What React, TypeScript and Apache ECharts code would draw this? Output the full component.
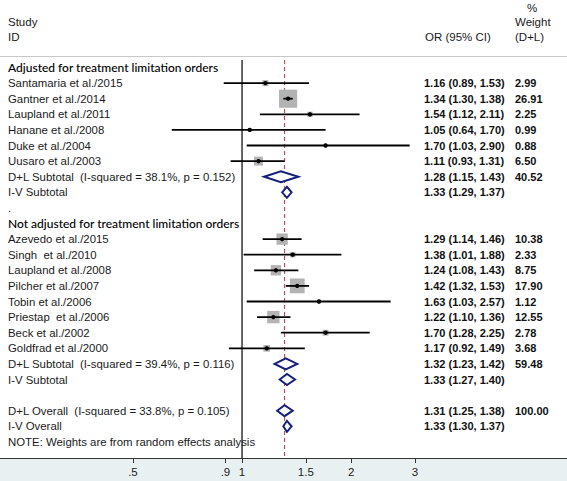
import React, { useEffect, useRef } from "react";
import * as echarts from "echarts";

// ---------- data ----------
const groupTitles = ["Adjusted for treatment limitation orders", "Not adjusted for treatment limitation orders"];

const adjustedStudies = ["Santamaria et al./2015", "Gantner et al./2014", "Laupland et al./2011", "Hanane et al./2008", "Duke et al./2004", "Uusaro et al./2003"];
const adjustedOR = [1.16, 1.34, 1.54, 1.05, 1.7, 1.11];
const adjustedLow = [0.89, 1.3, 1.12, 0.64, 1.03, 0.93];
const adjustedHigh = [1.53, 1.38, 2.11, 1.7, 2.9, 1.31];
const adjustedWeight = ["2.99", "26.91", "2.25", "0.99", "0.88", "6.50"];

const notAdjustedStudies = ["Azevedo et al./2015", "Singh  et al./2010", "Laupland et al./2008", "Pilcher et al./2007", "Tobin et al./2006", "Priestap  et al./2006", "Beck et al./2002", "Goldfrad et al./2000"];
const notAdjustedOR = [1.29, 1.38, 1.24, 1.42, 1.63, 1.22, 1.7, 1.17];
const notAdjustedLow = [1.14, 1.01, 1.08, 1.32, 1.03, 1.1, 1.28, 0.92];
const notAdjustedHigh = [1.46, 1.88, 1.43, 1.53, 2.57, 1.36, 2.25, 1.49];
const notAdjustedWeight = ["10.38", "2.33", "8.75", "17.90", "1.12", "12.55", "2.78", "3.68"];

// [OR, low, high]
const adjustedDL = [1.28, 1.15, 1.43];
const adjustedIV = [1.33, 1.29, 1.37];
const notAdjustedDL = [1.32, 1.23, 1.42];
const notAdjustedIV = [1.33, 1.27, 1.4];
const overallDL = [1.31, 1.25, 1.38];
const overallIV = [1.33, 1.3, 1.37];
const subtotalWeights = ["40.52", "59.48", "100.00"];
// [I-squared, p]
const heterogeneity = [["38.1%", "0.152"], ["39.4%", "0.116"], ["33.8%", "0.105"]];

const tickValues = [0.5, 0.9, 1, 1.5, 2, 3];
const tickLabels = [".5", ".9", "1", "1.5", "2", "3"];
const noteText = "NOTE: Weights are from random effects analysis";

// ---------- layout / styles ----------
const W = 567;
const H = 481;
const AXIS_MIN_OR = 0.2149;
const AXIS_MAX_OR = 7.88;
const ROW_PX = 15.6;
const FIRST_ROW_PX = 67.5;
const PLOT_BOTTOM_PX = 458;
const Y_MIN = -FIRST_ROW_PX / ROW_PX;
const Y_MAX = Y_MIN + PLOT_BOTTOM_PX / ROW_PX;
const REF_TOP_ROW = Y_MIN + 60 / ROW_PX;

const ARIAL = "'Liberation Sans', Arial, sans-serif";
const HEADING_FONT = "Lato, 'Liberation Sans', sans-serif";
const COL_LABEL_X = 8;
const COL_OR_X = 424;
const COL_W_X = 515;
const NAVY = "#16207a";
const DASH_RED = "#b5545a";
const BOX_GRAY = "#b3b3b3";

type Row = { kind: string; label: string; or?: number; lo?: number; hi?: number; w?: string };

function fmt(v: number) {
  return v.toFixed(2);
}

function buildRows(): Row[] {
  const rows: Row[] = [];
  const addGroup = (title: string, names: string[], ors: number[], los: number[], his: number[], ws: string[], dl: number[], iv: number[], wDL: string, het: string[]) => {
    rows.push({ kind: "heading", label: title });
    names.forEach((n, i) => rows.push({ kind: "study", label: n, or: ors[i], lo: los[i], hi: his[i], w: ws[i] }));
    rows.push({ kind: "dl", label: `D+L Subtotal  (I-squared = ${het[0]}, p = ${het[1]})`, or: dl[0], lo: dl[1], hi: dl[2], w: wDL });
    rows.push({ kind: "iv", label: "I-V Subtotal", or: iv[0], lo: iv[1], hi: iv[2] });
  };
  addGroup(groupTitles[0], adjustedStudies, adjustedOR, adjustedLow, adjustedHigh, adjustedWeight, adjustedDL, adjustedIV, subtotalWeights[0], heterogeneity[0]);
  rows.push({ kind: "text", label: "." });
  addGroup(groupTitles[1], notAdjustedStudies, notAdjustedOR, notAdjustedLow, notAdjustedHigh, notAdjustedWeight, notAdjustedDL, notAdjustedIV, subtotalWeights[1], heterogeneity[1]);
  rows.push({ kind: "blank", label: "" });
  rows.push({ kind: "dl", label: `D+L Overall  (I-squared = ${heterogeneity[2][0]}, p = ${heterogeneity[2][1]})`, or: overallDL[0], lo: overallDL[1], hi: overallDL[2], w: subtotalWeights[2] });
  rows.push({ kind: "iv", label: "I-V Overall", or: overallIV[0], lo: overallIV[1], hi: overallIV[2] });
  rows.push({ kind: "text", label: noteText });
  return rows;
}

const rows = buildRows();

export default function App() {
  const ref = useRef<HTMLDivElement>(null);

  useEffect(() => {
    document.body.style.margin = "0";
    if (!ref.current) return;
    const chart = echarts.init(ref.current, undefined, { renderer: "svg", width: W, height: H });

    const data = rows.map((r, i) => [r.or !== undefined ? Math.log(r.or) : 0, i]);

    const renderItem = (params: any, api: any) => {
      const r = rows[params.dataIndex];
      const rowIdx = api.value(1);
      const y = api.coord([0, rowIdx])[1];
      const children: any[] = [];
      if (r.kind === "heading") {
        children.push({ type: "text", style: { text: r.label, x: COL_LABEL_X, y, fill: "#000", fontSize: 12, fontFamily: HEADING_FONT, fontWeight: 500, align: "left", verticalAlign: "middle" } });
      } else if (r.label) {
        children.push({ type: "text", style: { text: r.label, x: COL_LABEL_X, y, fill: "#1a1a1a", fontSize: 11.4, fontFamily: ARIAL, align: "left", verticalAlign: "middle" } });
      }
      if (r.or !== undefined) {
        const p = api.coord([Math.log(r.or), rowIdx]);
        const pl = api.coord([Math.log(r.lo!), rowIdx]);
        const ph = api.coord([Math.log(r.hi!), rowIdx]);
        if (r.kind === "study") {
          const side = 3.5 * Math.sqrt(parseFloat(r.w!));
          children.push({ type: "rect", shape: { x: p[0] - side / 2, y: p[1] - side / 2, width: side, height: side }, style: { fill: BOX_GRAY } });
          children.push({ type: "line", shape: { x1: pl[0], y1: y, x2: ph[0], y2: y }, style: { stroke: "#000", lineWidth: 1.8 } });
          children.push({ type: "circle", shape: { cx: p[0], cy: y, r: 2.2 }, style: { fill: "#000" } });
        } else {
          const hh = 5.5;
          children.push({
            type: "polygon",
            shape: { points: [[pl[0], y], [p[0], y - hh], [ph[0], y], [p[0], y + hh]] },
            style: { fill: "#fff", stroke: NAVY, lineWidth: 2 },
          });
        }
        children.push({ type: "text", style: { text: `${fmt(r.or)} (${fmt(r.lo!)}, ${fmt(r.hi!)})`, x: COL_OR_X, y, fill: "#111", fontSize: 11, fontFamily: ARIAL, fontWeight: "bold", align: "left", verticalAlign: "middle" } });
        if (r.w) {
          children.push({ type: "text", style: { text: r.w, x: COL_W_X, y, fill: "#111", fontSize: 11, fontFamily: ARIAL, fontWeight: "bold", align: "left", verticalAlign: "middle" } });
        }
      }
      return { type: "group", children };
    };

    const headerText = (text: string, x: number, y: number) => ({
      type: "text",
      x,
      y,
      style: { text, fill: "#1a1a1a", font: `11.5px ${ARIAL}`, textAlign: "left", textVerticalAlign: "middle", align: "left", verticalAlign: "middle" },
    });

    const refOR = overallDL[0];

    const option: any = {
      animation: false,
      backgroundColor: "#e8f0f2",
      grid: { left: 0, right: 0, top: 0, bottom: H - PLOT_BOTTOM_PX, show: true, backgroundColor: "#ffffff", borderWidth: 0 },
      xAxis: {
        type: "value",
        min: Math.log(AXIS_MIN_OR),
        max: Math.log(AXIS_MAX_OR),
        splitLine: { show: false },
        axisLine: { show: true, onZero: false, lineStyle: { color: "#333", width: 1 } },
        axisTick: { show: true, length: 5, lineStyle: { color: "#333" }, customValues: tickValues.map((v) => Math.log(v)) },
        axisLabel: {
          show: true,
          customValues: tickValues.map((v) => Math.log(v)),
          margin: 8,
          color: "#222",
          fontSize: 11.5,
          fontFamily: ARIAL,
          formatter: (v: number) => {
            let best = 0;
            tickValues.forEach((t, i) => {
              if (Math.abs(Math.log(t) - v) < Math.abs(Math.log(tickValues[best]) - v)) best = i;
            });
            return tickLabels[best];
          },
        },
      },
      yAxis: { type: "value", inverse: true, min: Y_MIN, max: Y_MAX, show: false },
      graphic: [
        headerText("Study", 8, 22),
        headerText("ID", 8, 37),
        headerText("OR (95% CI)", 425, 37),
        headerText("%", 527, 8),
        headerText("Weight", 515, 22),
        headerText("(D+L)", 515, 37),
        { type: "line", shape: { x1: 0, y1: 56.5, x2: W, y2: 56.5 }, style: { stroke: "#c8c8c8", lineWidth: 1 } },
      ],
      series: [
        {
          type: "line",
          data: [[0, REF_TOP_ROW], [0, Y_MAX]],
          symbol: "none",
          lineStyle: { color: "#000", width: 1.2 },
          silent: true,
          z: 1,
        },
        {
          type: "line",
          data: [[Math.log(refOR), REF_TOP_ROW], [Math.log(refOR), Y_MAX]],
          symbol: "none",
          lineStyle: { color: DASH_RED, width: 1.2, type: [4, 3] },
          silent: true,
          z: 1,
        },
        {
          type: "custom",
          data,
          encode: { x: 0, y: 1 },
          renderItem,
          z: 3,
          clip: false,
        },
      ],
    };
    chart.setOption(option);
    return () => chart.dispose();
  }, []);

  return <div ref={ref} style={{ position: "absolute", left: 0, top: 0, width: W, height: H }} />;
}
